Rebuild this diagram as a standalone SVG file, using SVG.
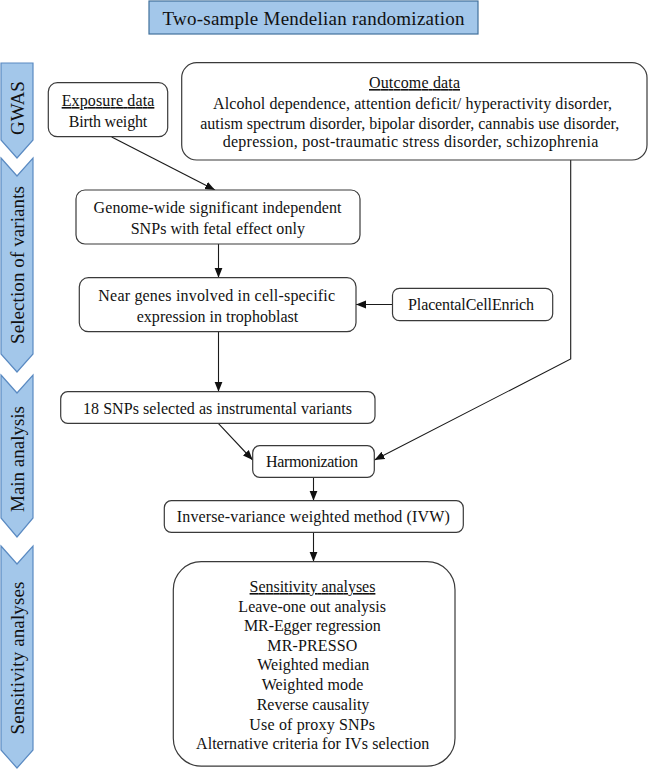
<svg xmlns="http://www.w3.org/2000/svg" width="649" height="771" viewBox="0 0 649 771" font-family="'Liberation Serif', 'DejaVu Serif', serif">
<defs>
<style>
text{font-family:'Liberation Serif','DejaVu Serif',serif}
.box{fill:#ffffff;stroke:#3a3a3a;stroke-width:1.2}
.chev{fill:#a3c7ea;stroke:#5a8ac2;stroke-width:1.2}
.t{font-size:16px;fill:#111;text-anchor:middle}
.ct{font-size:19px;fill:#111;text-anchor:middle}
.u{text-decoration:underline}
.c{fill:none;stroke:#1a1a1a;stroke-width:1.1}
</style>
<marker id="ah" markerUnits="userSpaceOnUse" markerWidth="10" markerHeight="10" viewBox="0 0 10 10" refX="10" refY="5" orient="auto">
<path d="M0,1 L10,5 L0,9 Z" fill="#111"/>
</marker>
</defs>
<rect width="649" height="771" fill="#ffffff"/>

<g id="title">
<rect x="149" y="1" width="329" height="33" fill="#a3c7ea" stroke="#41719c" stroke-width="1.2"/>
<text class="ct" x="313.5" y="24.5" textLength="302" lengthAdjust="spacing">Two-sample Mendelian randomization</text>
</g>

<g id="stage-gwas">
<path class="chev" d="M1,63 H33 V140 L17,158 L1,140 Z"/>
<text class="ct" transform="translate(24,108) rotate(-90)" x="0" y="0">GWAS</text>
</g>
<g id="stage-selection">
<path class="chev" d="M1,158 L17,176 L33,158 V354 L17,372 L1,354 Z"/>
<text class="ct" transform="translate(24,265) rotate(-90)" x="0" y="0" textLength="158" lengthAdjust="spacing">Selection of variants</text>
</g>
<g id="stage-main">
<path class="chev" d="M1,375 L17,393 L33,375 V518 L17,537 L1,518 Z"/>
<text class="ct" transform="translate(24,459) rotate(-90)" x="0" y="0" textLength="106" lengthAdjust="spacing">Main analysis</text>
</g>
<g id="stage-sensitivity">
<path class="chev" d="M1,546 L17,564 L33,546 V750 L17,768 L1,750 Z"/>
<text class="ct" transform="translate(24,658) rotate(-90)" x="0" y="0" textLength="153" lengthAdjust="spacing">Sensitivity analyses</text>
</g>

<g id="connectors">
<line class="c" x1="111.7" y1="137" x2="215" y2="190" marker-end="url(#ah)"/>
<line class="c" x1="218.5" y1="244" x2="218.5" y2="277.7" marker-end="url(#ah)"/>
<line class="c" x1="392.5" y1="304.5" x2="356" y2="304.5" marker-end="url(#ah)"/>
<line class="c" x1="218.5" y1="331.7" x2="218.5" y2="391.7" marker-end="url(#ah)"/>
<polyline class="c" points="570.7,160 570.7,359 374.5,460" marker-end="url(#ah)"/>
<line class="c" x1="218.3" y1="423.3" x2="252.7" y2="460" marker-end="url(#ah)"/>
<line class="c" x1="313.5" y1="477.3" x2="313.5" y2="500.7" marker-end="url(#ah)"/>
<line class="c" x1="313.5" y1="532.3" x2="313.5" y2="561.7" marker-end="url(#ah)"/>
</g>

<g id="exposure">
<rect class="box" x="48.3" y="82.7" width="119.4" height="54" rx="9"/>
<text class="t u" x="108" y="106" textLength="92.7" lengthAdjust="spacing">Exposure data</text>
<text class="t" x="108" y="126.5" textLength="78.4" lengthAdjust="spacing">Birth weight</text>
</g>

<g id="outcome">
<rect class="box" x="181.7" y="62.7" width="465.3" height="97.3" rx="15"/>
<text class="t u" x="414.5" y="88" textLength="91" lengthAdjust="spacing">Outcome data</text>
<text class="t" x="412.5" y="108.5" textLength="399" lengthAdjust="spacing">Alcohol dependence, attention deficit/ hyperactivity disorder,</text>
<text class="t" x="409.7" y="128.5" textLength="419" lengthAdjust="spacing">autism spectrum disorder, bipolar disorder, cannabis use disorder,</text>
<text class="t" x="410.5" y="147" textLength="375.6" lengthAdjust="spacing">depression, post-traumatic stress disorder, schizophrenia</text>
</g>

<g id="genome-wide">
<rect class="box" x="76" y="190" width="284" height="54" rx="9"/>
<text class="t" x="217.5" y="212.5" textLength="248" lengthAdjust="spacing">Genome-wide significant independent</text>
<text class="t" x="217.8" y="233.5" textLength="174.3" lengthAdjust="spacing">SNPs with fetal effect only</text>
</g>

<g id="near-genes">
<rect class="box" x="79.3" y="277.7" width="276.7" height="54" rx="9"/>
<text class="t" x="216.7" y="300.5" textLength="236.7" lengthAdjust="spacing">Near genes involved in cell-specific</text>
<text class="t" x="217.5" y="321.5" textLength="161.6" lengthAdjust="spacing">expression in trophoblast</text>
</g>

<g id="placental">
<rect class="box" x="392.5" y="288.3" width="160.2" height="32.4" rx="7"/>
<text class="t" x="471" y="310" textLength="126" lengthAdjust="spacing">PlacentalCellEnrich</text>
</g>

<g id="snps18">
<rect class="box" x="60.7" y="391.7" width="314.3" height="31.6" rx="7"/>
<text class="t" x="217.5" y="413.5" textLength="269" lengthAdjust="spacing">18 SNPs selected as instrumental variants</text>
</g>

<g id="harmonization">
<rect class="box" x="252.7" y="445.7" width="121.6" height="31.6" rx="7"/>
<text class="t" x="312" y="467" textLength="92" lengthAdjust="spacing">Harmonization</text>
</g>

<g id="ivw">
<rect class="box" x="164.3" y="500.7" width="299" height="31.6" rx="7"/>
<text class="t" x="313.3" y="522" textLength="273" lengthAdjust="spacing">Inverse-variance weighted method (IVW)</text>
</g>

<g id="sensitivity">
<rect class="box" x="173.3" y="561.7" width="281.7" height="204.5" rx="28"/>
<text class="t u" x="312.5" y="592" textLength="125.8" lengthAdjust="spacing">Sensitivity analyses</text>
<text class="t" x="312.2" y="612" textLength="147.7" lengthAdjust="spacing">Leave-one out analysis</text>
<text class="t" x="312.3" y="631" textLength="136.7" lengthAdjust="spacing">MR-Egger regression</text>
<text class="t" x="312.3" y="651" textLength="90" lengthAdjust="spacing">MR-PRESSO</text>
<text class="t" x="313.3" y="670" textLength="112" lengthAdjust="spacing">Weighted median</text>
<text class="t" x="312.5" y="690" textLength="101.7" lengthAdjust="spacing">Weighted mode</text>
<text class="t" x="313" y="710" textLength="112.7" lengthAdjust="spacing">Reverse causality</text>
<text class="t" x="312.2" y="730" textLength="125.7" lengthAdjust="spacing">Use of proxy SNPs</text>
<text class="t" x="312.7" y="749" textLength="233.3" lengthAdjust="spacing">Alternative criteria for IVs selection</text>
</g>
</svg>
